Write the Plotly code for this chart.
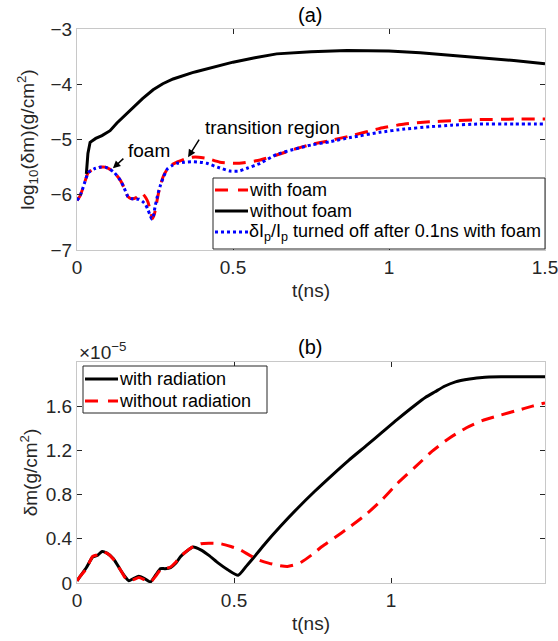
import plotly.graph_objects as go

# ---------------- Panel (a) data: log10(dm) ----------------
t_a_without = [0.03, 0.035, 0.042, 0.06, 0.08, 0.106, 0.128, 0.15, 0.18, 0.21, 0.244, 0.275, 0.308,
               0.34, 0.37, 0.384, 0.4, 0.45, 0.5, 0.57, 0.64, 0.75, 0.865, 1.0, 1.1, 1.186,
               1.3, 1.4, 1.5]
y_a_without = [-5.62, -5.25, -5.05, -4.98, -4.93, -4.84, -4.70, -4.58, -4.41, -4.26, -4.10, -3.99, -3.905,
               -3.84, -3.79, -3.77, -3.745, -3.67, -3.60, -3.52, -3.45, -3.41, -3.39, -3.40, -3.43, -3.47,
               -3.52, -3.57, -3.63]

t_a_dotted = [0.0, 0.01, 0.02, 0.036, 0.055, 0.074, 0.09, 0.106, 0.12, 0.138, 0.15, 0.163, 0.175, 0.19,
              0.2, 0.21, 0.22, 0.228, 0.235, 0.24, 0.245, 0.25, 0.26, 0.268, 0.277, 0.29, 0.305, 0.32,
              0.345, 0.37, 0.394, 0.416, 0.45, 0.49, 0.52, 0.545, 0.587, 0.64, 0.7, 0.75, 0.81,
              0.88, 0.97, 1.05, 1.13, 1.2, 1.29, 1.4, 1.5]
y_a_dotted = [-6.10, -6.02, -5.86, -5.60, -5.53, -5.50, -5.50, -5.54, -5.60, -5.73, -5.86, -6.03, -6.07, -6.08,
              -6.08, -6.12, -6.18, -6.28, -6.38, -6.44, -6.38, -6.22, -5.97, -5.82, -5.68, -5.53, -5.47, -5.43,
              -5.41, -5.40, -5.41, -5.43, -5.50, -5.57, -5.57, -5.52, -5.43, -5.27, -5.17, -5.10, -5.04,
              -4.96, -4.87, -4.81, -4.77, -4.74, -4.72, -4.72, -4.72]

t_a_foam = [0.0, 0.01, 0.02, 0.036, 0.055, 0.074, 0.09, 0.106, 0.12, 0.138, 0.15, 0.163, 0.175, 0.19,
            0.2, 0.21, 0.22, 0.228, 0.235, 0.242, 0.248, 0.255, 0.262, 0.27, 0.277, 0.288, 0.3, 0.32,
            0.352, 0.37, 0.39, 0.416, 0.458, 0.52, 0.587, 0.64, 0.7, 0.75, 0.81, 0.88, 0.97, 1.05,
            1.13, 1.2, 1.29, 1.4, 1.5]
y_a_foam = [-6.10, -6.02, -5.86, -5.60, -5.53, -5.50, -5.50, -5.54, -5.60, -5.73, -5.86, -6.03, -6.07, -6.05,
            -6.00, -5.98, -6.05, -6.14, -6.30, -6.43, -6.35, -6.15, -5.95, -5.78, -5.66, -5.55, -5.47, -5.41,
            -5.34, -5.32, -5.32, -5.34, -5.41, -5.43, -5.37, -5.28, -5.17, -5.09, -5.02, -4.93, -4.80, -4.72,
            -4.68, -4.66, -4.64, -4.63, -4.63]

# ---------------- Panel (b) data: dm in units of 1e-5 g/cm^2 ----------------
t_b_with = [0.0, 0.01, 0.03, 0.05, 0.065, 0.08, 0.095, 0.116, 0.138, 0.155, 0.165, 0.18, 0.197, 0.215,
            0.234, 0.25, 0.266, 0.28, 0.298, 0.315, 0.33, 0.35, 0.37, 0.394, 0.42, 0.45, 0.48, 0.513,
            0.54, 0.564, 0.6, 0.65, 0.7, 0.757, 0.81, 0.865, 0.92, 0.97, 1.02, 1.077, 1.11, 1.14,
            1.17, 1.205, 1.25, 1.29, 1.35, 1.4, 1.49]
v_b_with = [0.02, 0.06, 0.14, 0.235, 0.25, 0.285, 0.27, 0.22, 0.12, 0.05, 0.02, 0.04, 0.06, 0.04,
            0.01, 0.07, 0.13, 0.13, 0.14, 0.18, 0.24, 0.29, 0.325, 0.30, 0.25, 0.18, 0.12, 0.07,
            0.155, 0.235, 0.36, 0.52, 0.67, 0.83, 0.97, 1.11, 1.24, 1.36, 1.48, 1.61, 1.68, 1.73,
            1.78, 1.82, 1.845, 1.86, 1.865, 1.865, 1.865]

t_b_without = [0.0, 0.01, 0.03, 0.05, 0.065, 0.08, 0.095, 0.116, 0.138, 0.155, 0.165, 0.18, 0.197, 0.215,
               0.234, 0.25, 0.266, 0.28, 0.298, 0.315, 0.33, 0.35, 0.37, 0.394, 0.42, 0.458, 0.49, 0.52,
               0.55, 0.577, 0.61, 0.64, 0.67, 0.7, 0.715, 0.75, 0.78, 0.82, 0.865, 0.92, 0.97, 1.02,
               1.077, 1.13, 1.185, 1.24, 1.29, 1.35, 1.4, 1.45, 1.49]
v_b_without = [0.02, 0.06, 0.13, 0.24, 0.255, 0.28, 0.27, 0.215, 0.12, 0.04, 0.02, 0.03, 0.05, 0.03,
               0.01, 0.06, 0.12, 0.13, 0.145, 0.19, 0.24, 0.29, 0.33, 0.355, 0.36, 0.355, 0.33, 0.30,
               0.25, 0.21, 0.18, 0.16, 0.15, 0.17, 0.19, 0.26, 0.33, 0.41, 0.50, 0.62, 0.75, 0.90,
               1.05, 1.19, 1.31, 1.405, 1.47, 1.52, 1.56, 1.60, 1.63]

a_xticks = [0, 0.5, 1, 1.5]
a_xticklabels = ["0", "0.5", "1", "1.5"]
a_yticks = [-7, -6, -5, -4, -3]
b_xticks = [0, 0.5, 1]
b_xticklabels = ["0", "0.5", "1"]
b_yticks = [0, 0.4, 0.8, 1.2, 1.6]
b_yticklabels = ["0", "0.4", "0.8", "1.2", "1.6"]

a_names = ["with foam", "without foam",
           "δI<sub>p</sub>/I<sub>p</sub> turned off after 0.1ns with foam"]
b_names = ["with radiation", "without radiation"]

FONT = "Liberation Sans, Arial, sans-serif"
TXT = "#262626"
BOX = "#c8c8c8"
FS = 19
LFS = 18
RED = dict(color="#ff0000", width=3, dash="13px,8px")
BLACK = dict(color="#000000", width=3)
BLUE = dict(color="#0000ff", width=3, dash="dot")

W, H = 558, 641
ML, MR, MT, MB = 77, 13, 29, 58
PW, PH = W - ML - MR, H - MT - MB


def px(xp):
    return (xp - ML) / PW


def py(yp):
    return (H - MB - yp) / PH


fig = go.Figure()

fig.add_trace(go.Scatter(x=t_a_foam, y=y_a_foam, mode="lines", name=a_names[0],
                         line=dict(RED, shape="spline", smoothing=0.5),
                         xaxis="x", yaxis="y", showlegend=False))
fig.add_trace(go.Scatter(x=t_a_without, y=y_a_without, mode="lines", name=a_names[1],
                         line=BLACK, xaxis="x", yaxis="y", showlegend=False))
fig.add_trace(go.Scatter(x=t_a_dotted, y=y_a_dotted, mode="lines", name=a_names[2],
                         line=dict(BLUE, shape="spline", smoothing=0.5),
                         xaxis="x", yaxis="y", showlegend=False))

fig.add_trace(go.Scatter(x=t_b_with, y=v_b_with, mode="lines", name=b_names[0],
                         line=dict(BLACK, shape="spline", smoothing=0.6),
                         xaxis="x2", yaxis="y2", showlegend=False))
fig.add_trace(go.Scatter(x=t_b_without, y=v_b_without, mode="lines", name=b_names[1],
                         line=dict(RED, shape="spline", smoothing=0.6),
                         xaxis="x2", yaxis="y2", showlegend=False))

axis_common = dict(showline=True, linecolor=BOX, linewidth=1, mirror="ticks",
                   ticks="inside", ticklen=5, tickwidth=1, tickcolor=TXT,
                   showgrid=False, zeroline=False, ticklabeloverflow="allow",
                   automargin=False,
                   tickfont=dict(family=FONT, size=FS, color=TXT))

fig.update_layout(
    width=W, height=H,
    margin=dict(l=ML, r=MR, t=MT, b=MB, autoexpand=False),
    paper_bgcolor="white", plot_bgcolor="white",
    font=dict(family=FONT, size=FS, color=TXT),
    showlegend=False,
    xaxis=dict(domain=[0, 1], range=[0, 1.5], tickvals=a_xticks, ticktext=a_xticklabels,
               anchor="y", title=dict(text="t(ns)", standoff=6, font=dict(size=FS)), **axis_common),
    yaxis=dict(domain=[0.601, 1.0], range=[-7, -3], tickvals=a_yticks, anchor="x",
               title=dict(text="log<sub>10</sub>(δm)(g/cm<sup>2</sup>)", standoff=10, font=dict(size=FS)),
               **axis_common),
    xaxis2=dict(domain=[0, 1], range=[0, 1.49], tickvals=b_xticks, ticktext=b_xticklabels,
                anchor="y2", title=dict(text="t(ns)", standoff=6, font=dict(size=FS)), **axis_common),
    yaxis2=dict(domain=[0, 0.399], range=[0, 2.0], tickvals=b_yticks, ticktext=b_yticklabels,
                anchor="x2",
                title=dict(text="δm(g/cm<sup>2</sup>)", standoff=3, font=dict(size=FS)),
                **axis_common),
)

# ---- legend boxes drawn as shapes + text (MATLAB-style compact legends) ----
shapes = []
annotations = []


def legend_box(x0, y0, x1, y1, rows, names, styles, sample_x0, sample_x1, text_x):
    shapes.append(dict(type="rect", xref="paper", yref="paper",
                       x0=px(x0), x1=px(x1), y0=py(y1), y1=py(y0),
                       line=dict(color=TXT, width=1), fillcolor="white", layer="above"))
    for r, name, st in zip(rows, names, styles):
        shapes.append(dict(type="line", xref="paper", yref="paper",
                           x0=px(sample_x0), x1=px(sample_x1), y0=py(r), y1=py(r),
                           line=st, layer="above"))
        annotations.append(dict(text=name, x=px(text_x), y=py(r), xref="paper", yref="paper",
                                showarrow=False, xanchor="left", yanchor="middle",
                                font=dict(family=FONT, size=LFS, color="#000000")))


legend_box(213, 178, 545, 249, [190, 211, 232], a_names,
           [dict(color="#ff0000", width=3, dash="13px,10px"), BLACK, BLUE], 215, 248, 247)
legend_box(83, 366, 267, 413, [379, 401], b_names,
           [BLACK, dict(color="#ff0000", width=3, dash="13px,10px")], 85, 118, 117)

annotations += [
    dict(text="(a)", x=0.498, y=1.025, xref="paper", yref="paper", showarrow=False,
         xanchor="center", yanchor="middle", font=dict(size=20, color="#000000")),
    dict(text="(b)", x=0.498, y=0.426, xref="paper", yref="paper", showarrow=False,
         xanchor="center", yanchor="middle", font=dict(size=20, color="#000000")),
    dict(text="×10<sup>−5</sup>", x=0.0, y=0.418, xref="paper", yref="paper", showarrow=False,
         xanchor="left", yanchor="middle", font=dict(size=FS, color=TXT)),
    dict(text="foam", x=0.231, y=-5.19, xref="x", yref="y", showarrow=False,
         xanchor="center", yanchor="middle", font=dict(size=FS, color="#000000")),
    dict(text="transition region", x=0.628, y=-4.79, xref="x", yref="y", showarrow=False,
         xanchor="center", yanchor="middle", font=dict(size=FS, color="#000000")),
    dict(text="", x=0.115, y=-5.52, xref="x", yref="y", showarrow=True, ax=12, ay=-11,
         arrowhead=2, arrowsize=1, arrowwidth=1.5, arrowcolor="#000000"),
    dict(text="", x=0.356, y=-5.32, xref="x", yref="y", showarrow=True, ax=12, ay=-19,
         arrowhead=2, arrowsize=1, arrowwidth=1.5, arrowcolor="#000000"),
]
fig.update_layout(shapes=shapes, annotations=annotations)

fig.write_html("out.html")
